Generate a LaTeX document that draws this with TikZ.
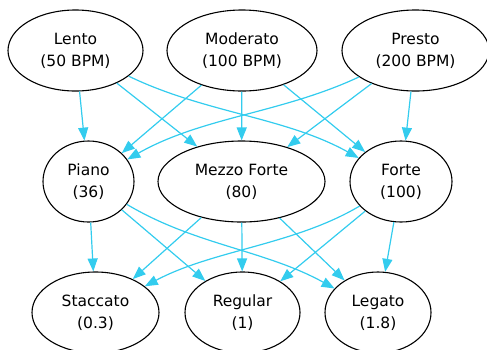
\documentclass[tikz,border=0pt]{standalone}
\usepackage{fontspec}
\setmainfont{DejaVu Sans}
\usetikzlibrary{shapes.geometric,arrows.meta}
\definecolor{edgecol}{RGB}{51,204,238}
\begin{document}
\begin{tikzpicture}[x=1pt,y=-1pt,
  nd/.style={ellipse,draw=black,line width=1.1pt,inner sep=0pt,minimum height=81pt,align=center,
    font=\fontsize{15.5}{22}\selectfont},
  ed/.style={draw=edgecol,line width=1.2pt,-{Triangle[length=13pt,width=10pt]}}]
\useasboundingbox (0,0) rectangle (487,349);
\clip (0,0) rectangle (487,349);
\node[nd,minimum width=135pt] (lento) at (75.5,50.5) {Lento\\(50 BPM)};
\node[nd,minimum width=150pt] (moderato) at (242,50.5) {Moderato\\(100 BPM)};
\node[nd,minimum width=147pt] (presto) at (415.5,50.5) {Presto\\(200 BPM)};
\node[nd,minimum width=91pt] (piano) at (88.5,181.5) {Piano\\(36)};
\node[nd,minimum width=167pt] (mezzo) at (241.5,181.5) {Mezzo Forte\\(80)};
\node[nd,minimum width=102pt] (forte) at (401,181.5) {Forte\\(100)};
\node[nd,minimum width=127pt] (staccato) at (95.5,312.5) {Staccato\\(0.3)};
\node[nd,minimum width=115pt] (regular) at (242.5,312.5) {Regular\\(1)};
\node[nd,minimum width=106pt] (legato) at (378,312.5) {Legato\\(1.8)};
% top to middle
\draw[ed] (lento) -- (piano);
\draw[ed] (lento) -- (mezzo);
\draw[ed] (lento) .. controls (205,113) and (285,117) .. (forte);
\draw[ed] (moderato) -- (piano);
\draw[ed] (moderato) -- (mezzo);
\draw[ed] (moderato) -- (forte);
\draw[ed] (presto) .. controls (282,113) and (202,117) .. (piano);
\draw[ed] (presto) -- (mezzo);
\draw[ed] (presto) -- (forte);
% middle to bottom
\draw[ed] (piano) -- (staccato);
\draw[ed] (piano) -- (regular);
\draw[ed] (piano) .. controls (195,245) and (265,250) .. (legato);
\draw[ed] (mezzo) -- (staccato);
\draw[ed] (mezzo) -- (regular);
\draw[ed] (mezzo) -- (legato);
\draw[ed] (forte) .. controls (294,245) and (213,250) .. (staccato);
\draw[ed] (forte) -- (regular);
\draw[ed] (forte) -- (legato);
\end{tikzpicture}
\end{document}
